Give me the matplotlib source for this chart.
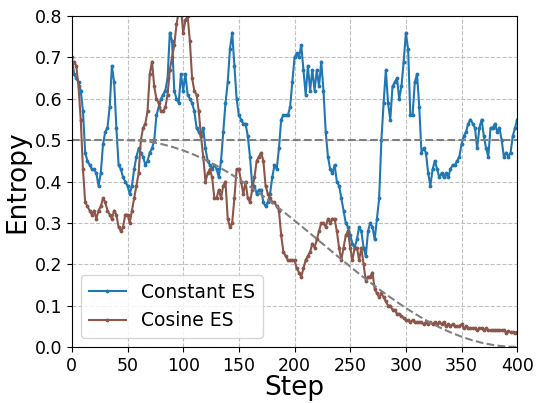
import numpy as np
import matplotlib
matplotlib.use("Agg")
import matplotlib.pyplot as plt

# entropy read every 2 steps (0..400)
steps = list(range(0, 401, 2))

constant_es = [
    0.70, 0.66, 0.65, 0.64, 0.62, 0.57, 0.47, 0.45, 0.44, 0.43,   # 0-18
    0.43, 0.42, 0.39, 0.42, 0.49, 0.52, 0.53, 0.58, 0.68, 0.64,   # 20-38
    0.53, 0.44, 0.43, 0.41, 0.40, 0.39, 0.37, 0.39, 0.43, 0.46,   # 40-58
    0.48, 0.47, 0.46, 0.44, 0.45, 0.47, 0.48, 0.50, 0.56, 0.58,   # 60-78
    0.60, 0.61, 0.62, 0.65, 0.76, 0.74, 0.62, 0.60, 0.59, 0.66,   # 80-98
    0.62, 0.66, 0.61, 0.60, 0.59, 0.57, 0.53, 0.52, 0.51, 0.53,   # 100-118
    0.48, 0.45, 0.44, 0.43, 0.44, 0.43, 0.41, 0.45, 0.52, 0.59,   # 120-138
    0.64, 0.72, 0.76, 0.68, 0.60, 0.56, 0.55, 0.54, 0.54, 0.51,   # 140-158
    0.46, 0.39, 0.39, 0.37, 0.38, 0.38, 0.35, 0.34, 0.35, 0.37,   # 160-178
    0.41, 0.44, 0.43, 0.48, 0.55, 0.56, 0.56, 0.56, 0.58, 0.64,   # 180-198
    0.70, 0.71, 0.70, 0.73, 0.67, 0.61, 0.68, 0.62, 0.67, 0.62,   # 200-218
    0.67, 0.63, 0.69, 0.62, 0.52, 0.46, 0.43, 0.42, 0.44, 0.40,   # 220-238
    0.39, 0.36, 0.33, 0.30, 0.29, 0.27, 0.25, 0.24, 0.26, 0.29,   # 240-258
    0.28, 0.24, 0.22, 0.28, 0.30, 0.29, 0.26, 0.31, 0.36, 0.50,   # 260-278
    0.59, 0.67, 0.59, 0.55, 0.63, 0.64, 0.65, 0.60, 0.63, 0.69,   # 280-298
    0.76, 0.72, 0.56, 0.56, 0.64, 0.66, 0.58, 0.47, 0.48, 0.47,   # 300-318
    0.42, 0.39, 0.43, 0.45, 0.43, 0.41, 0.42, 0.41, 0.42, 0.41,   # 320-338
    0.43, 0.44, 0.44, 0.45, 0.46, 0.49, 0.51, 0.52, 0.54, 0.55,   # 340-358
    0.54, 0.53, 0.48, 0.53, 0.55, 0.51, 0.48, 0.46, 0.53, 0.53,   # 360-378
    0.54, 0.52, 0.53, 0.50, 0.46, 0.47, 0.46, 0.47, 0.51, 0.53,   # 380-398
    0.55,                                                         # 400
]

cosine_es = [
    0.67, 0.69, 0.68, 0.63, 0.55, 0.43, 0.35, 0.34, 0.33, 0.32,
    0.33, 0.31, 0.33, 0.34, 0.36, 0.35, 0.33, 0.32, 0.31, 0.33,
    0.32, 0.29, 0.28, 0.29, 0.32, 0.32, 0.30, 0.33, 0.36, 0.39,
    0.42, 0.50, 0.53, 0.54, 0.57, 0.66, 0.69, 0.63, 0.60, 0.59,
    0.57, 0.57, 0.58, 0.61, 0.67, 0.70, 0.73, 0.78, 0.81, 0.82,
    0.76, 0.79, 0.80, 0.74, 0.65, 0.62, 0.61, 0.57, 0.51, 0.46,
    0.40, 0.42, 0.43, 0.41, 0.36, 0.36, 0.38, 0.36, 0.39, 0.40,
    0.31, 0.29, 0.30, 0.36, 0.43, 0.43, 0.40, 0.37, 0.40, 0.36,
    0.35, 0.38, 0.41, 0.45, 0.46, 0.47, 0.45, 0.39, 0.37, 0.36,
    0.35, 0.35, 0.34, 0.33, 0.27, 0.23, 0.22, 0.21, 0.21, 0.21,
    0.21, 0.19, 0.18, 0.17, 0.19, 0.21, 0.22, 0.23, 0.25, 0.24,
    0.26, 0.28, 0.30, 0.30, 0.29, 0.31, 0.30, 0.31, 0.31, 0.28,
    0.24, 0.21, 0.24, 0.27, 0.28, 0.24, 0.21, 0.24, 0.24, 0.21,
    0.24, 0.20, 0.16, 0.17, 0.17, 0.18, 0.14, 0.13, 0.12, 0.13,
    0.12, 0.11, 0.10, 0.10, 0.09, 0.09, 0.08, 0.08, 0.075, 0.07,
    0.065, 0.065, 0.06, 0.065, 0.06, 0.06, 0.06, 0.06, 0.055, 0.06,
    0.055, 0.06, 0.055, 0.06, 0.055, 0.06, 0.055, 0.06, 0.05, 0.055,
    0.05, 0.055, 0.05, 0.05, 0.05, 0.055, 0.045, 0.05, 0.045, 0.045,
    0.045, 0.045, 0.04, 0.045, 0.045, 0.04, 0.045, 0.04, 0.04, 0.04,
    0.04, 0.04, 0.04, 0.04, 0.04, 0.035, 0.038, 0.036, 0.036, 0.035,
    0.036,
]

# entropy targets
target_steps = [0, 400]
target_const = [0.5, 0.5]
sched_steps = list(range(50, 401, 10))
sched_vals = [0.5000, 0.4990, 0.4960, 0.4910, 0.4841, 0.4752, 0.4646, 0.4523,
              0.4383, 0.4227, 0.4059, 0.3876, 0.3684, 0.3483, 0.3273, 0.3056,
              0.2836, 0.2612, 0.2388, 0.2164, 0.1944, 0.1727, 0.1517, 0.1316,
              0.1124, 0.0941, 0.0773, 0.0617, 0.0477, 0.0354, 0.0248, 0.0159,
              0.0090, 0.0040, 0.0010, 0.0000]

fig = plt.figure(figsize=(5.36, 4.03), dpi=100)
ax = fig.add_axes([0.134, 0.139, 0.831, 0.821])

ax.plot(steps, constant_es, color='#1f77b4', marker='.', markersize=3.5,
        linewidth=1.5, label='Constant ES')
ax.plot(steps, cosine_es, color='#8c564b', marker='.', markersize=3.5,
        linewidth=1.5, label='Cosine ES')
ax.plot(target_steps, target_const, color='#808080', linestyle='--', linewidth=1.5)
ax.plot(sched_steps, sched_vals, color='#808080', linestyle='--', linewidth=1.5)

ax.set_xlim(0, 400)
ax.set_ylim(0, 0.8)
ax.set_xticks(np.arange(0, 401, 50))
ax.set_yticks(np.arange(0, 0.81, 0.1))
ax.tick_params(labelsize=12.5)
ax.grid(True, linestyle='--', color='#c0c0c0', linewidth=0.8)
ax.set_xlabel('Step', fontsize=19, labelpad=0)
ax.set_ylabel('Entropy', fontsize=19, labelpad=3)
ax.legend(loc='lower left', fontsize=13.5)

fig.savefig('out.png', dpi=100)
